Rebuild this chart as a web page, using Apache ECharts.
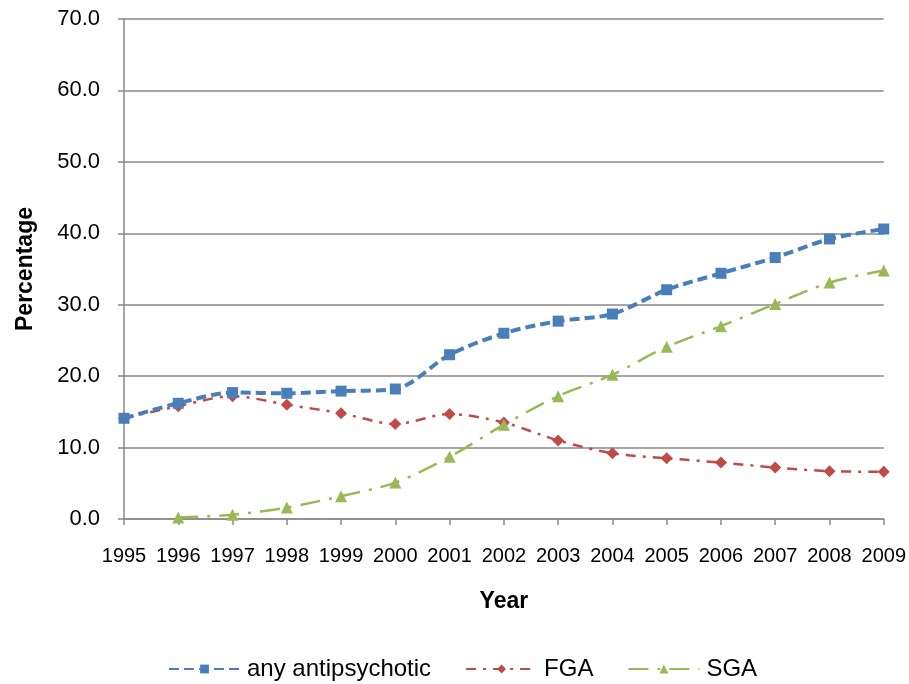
<!DOCTYPE html>
<html>
<head>
<meta charset="utf-8">
<script src="https://cdn.jsdelivr.net/npm/echarts@6/dist/echarts.min.js"></script>
<style>
  html, body { margin: 0; padding: 0; background: #fff; }
  #chart { width: 909px; height: 684px; }
</style>
</head>
<body>
<div id="chart"></div>
<script>
// years on the x axis
const years = ['1995', '1996', '1997', '1998', '1999', '2000', '2001', '2002',
  '2003', '2004', '2005', '2006', '2007', '2008', '2009'];

// percentages
const anyAntipsychotic = [14.1, 16.2, 17.7, 17.6, 17.9, 18.2, 23.0, 26.0, 27.7, 28.7, 32.1, 34.4, 36.6, 39.2, 40.6];
const fga = [14.1, 15.8, 17.2, 16.0, 14.8, 13.3, 14.7, 13.5, 11.0, 9.2, 8.5, 7.9, 7.2, 6.7, 6.6];
const sga = [null, 0.2, 0.6, 1.6, 3.2, 5.1, 8.7, 13.2, 17.2, 20.2, 24.1, 27.0, 30.1, 33.1, 34.8];

const font = 'Liberation Sans, Arial, sans-serif';
const axisGray = '#898989';

const chart = echarts.init(document.getElementById('chart'));
chart.setOption({
  animation: false,
  grid: { left: 124, right: 25, top: 19, bottom: 165 },
  legend: {
    top: 652,
    left: 163,
    itemWidth: 71,
    itemHeight: 11,
    itemGap: 34,
    textStyle: { color: '#000', fontSize: 24, fontFamily: font, padding: [0, 0, 0, 2] },
    data: ['any antipsychotic', 'FGA', 'SGA']
  },
  xAxis: {
    type: 'category',
    data: years,
    boundaryGap: false,
    name: 'Year',
    nameLocation: 'middle',
    nameGap: 71,
    nameTextStyle: { color: '#000', fontSize: 23, fontWeight: 'bold', fontFamily: font },
    axisLine: { lineStyle: { color: axisGray, width: 1.5 } },
    axisTick: { show: true, length: 6, lineStyle: { color: axisGray, width: 1.5 } },
    axisLabel: { color: '#000', fontSize: 20, fontFamily: font, margin: 27, interval: 0 }
  },
  yAxis: {
    type: 'value',
    min: 0,
    max: 70,
    interval: 10,
    name: 'Percentage',
    nameLocation: 'middle',
    nameRotate: 90,
    nameGap: 87,
    nameTextStyle: { color: '#000', fontSize: 23, fontWeight: 'bold', fontFamily: font },
    axisLine: { show: true, lineStyle: { color: axisGray, width: 1.5 } },
    axisTick: { show: true, length: 6, lineStyle: { color: axisGray, width: 1.5 } },
    splitLine: { lineStyle: { color: axisGray, width: 1.5 } },
    axisLabel: {
      color: '#000', fontSize: 22, fontFamily: font, margin: 24,
      formatter: v => v.toFixed(1)
    }
  },
  series: [{
    name: 'any antipsychotic',
    type: 'line',
    data: anyAntipsychotic,
    smooth: 0.3,
    symbol: 'rect',
    symbolSize: 11,
    itemStyle: { color: '#4A7EBB' },
    lineStyle: { color: '#4A7EBB', width: 4, type: [10, 5] },
    z: 3
  }, {
    name: 'FGA',
    type: 'line',
    data: fga,
    smooth: 0.3,
    symbol: 'diamond',
    symbolSize: 12,
    itemStyle: { color: '#BE4B48' },
    lineStyle: { color: '#BE4B48', width: 2.5, type: [10, 7, 3, 7] },
    z: 2
  }, {
    name: 'SGA',
    type: 'line',
    data: sga,
    smooth: 0.3,
    symbol: 'triangle',
    symbolSize: 12,
    itemStyle: { color: '#98B954' },
    lineStyle: { color: '#98B954', width: 2.5, type: [20, 9, 3, 9] },
    z: 2
  }]
});
</script>
</body>
</html>
